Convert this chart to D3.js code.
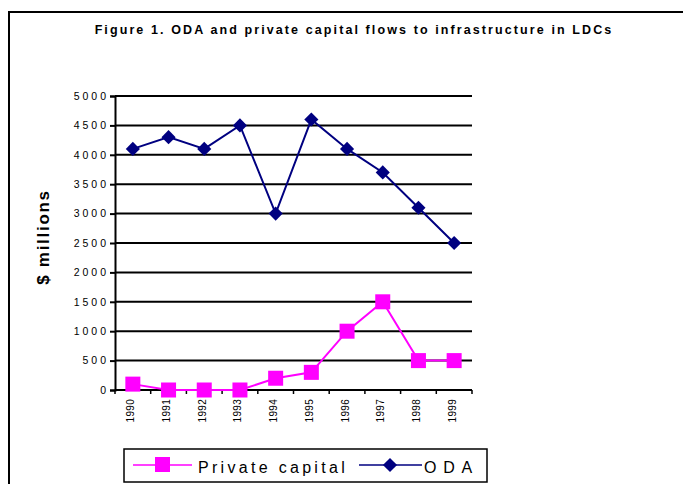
<!DOCTYPE html>
<html>
<head>
<meta charset="utf-8">
<script src="https://cdn.jsdelivr.net/npm/d3@7"></script>
<style>
  body { margin: 0; background: #fff; }
  svg { font-family: "Liberation Sans", Arial, sans-serif; }
</style>
</head>
<body>
<div id="chart"></div>
<script>
const years = ["1990", "1991", "1992", "1993", "1994", "1995", "1996", "1997", "1998", "1999"];
const oda = [4100, 4300, 4100, 4500, 3000, 4600, 4100, 3700, 3100, 2500];
const privateCapital = [100, 0, 0, 0, 200, 300, 1000, 1500, 500, 500];
const yTicks = [0, 500, 1000, 1500, 2000, 2500, 3000, 3500, 4000, 4500, 5000];

const width = 683, height = 484;
const svg = d3.select("#chart").append("svg")
    .attr("width", width)
    .attr("height", height);

// outer frame (runs off the right and bottom)
svg.append("path")
    .attr("d", "M9,490 L9,12 L690,12")
    .attr("fill", "none")
    .attr("stroke", "black")
    .attr("stroke-width", 2);

svg.append("text")
    .attr("x", 354)
    .attr("y", 34)
    .attr("text-anchor", "middle")
    .attr("font-size", 12.5)
    .attr("font-weight", "bold")
    .attr("letter-spacing", 2.1)
    .text("Figure 1. ODA and private capital flows to infrastructure in LDCs");

const plotLeft = 115, plotRight = 472, plotTop = 96, plotBottom = 390;

const x = d3.scaleBand().domain(years).range([plotLeft, plotRight]);
const y = d3.scaleLinear().domain([0, 5000]).range([plotBottom, plotTop]);

// gridlines
svg.append("g")
    .selectAll("line")
    .data(yTicks.filter(d => d > 0))
    .join("line")
    .attr("x1", plotLeft)
    .attr("x2", plotRight)
    .attr("y1", d => y(d))
    .attr("y2", d => y(d))
    .attr("stroke", "black")
    .attr("stroke-width", 2);

// y axis
const yAxis = svg.append("g")
    .attr("transform", `translate(${plotLeft},0)`)
    .call(d3.axisLeft(y).tickValues(yTicks).tickFormat(d3.format("d")).tickSize(5).tickPadding(1));
yAxis.select(".domain").attr("stroke-width", 2);
yAxis.selectAll(".tick line").attr("stroke-width", 2);
yAxis.selectAll("text")
    .attr("font-size", 10.5)
    .attr("letter-spacing", 3)
    .attr("font-family", "Liberation Sans, Arial, sans-serif")
    .attr("fill", "black");

// x axis: ticks between categories
const xAxis = svg.append("g")
    .attr("transform", `translate(0,${plotBottom})`);
xAxis.append("line")
    .attr("x1", plotLeft)
    .attr("x2", plotRight)
    .attr("stroke", "black")
    .attr("stroke-width", 2);
const bounds = years.map(d => x(d)).concat([plotRight]);
xAxis.selectAll(".xt")
    .data(bounds)
    .join("line")
    .attr("class", "xt")
    .attr("x1", d => d)
    .attr("x2", d => d)
    .attr("y1", 0)
    .attr("y2", 4)
    .attr("stroke", "black")
    .attr("stroke-width", 1.5);
xAxis.selectAll("text")
    .data(years)
    .join("text")
    .attr("transform", d => `translate(${x(d) + x.bandwidth() / 2 + 1.5},9) rotate(-90)`)
    .attr("text-anchor", "end")
    .attr("font-size", 10)
    .attr("letter-spacing", 0.3)
    .text(d => d);

// y label
svg.append("text")
    .attr("transform", `translate(49,237) rotate(-90)`)
    .attr("text-anchor", "middle")
    .attr("font-size", 17)
    .attr("font-weight", "bold")
    .attr("letter-spacing", 1.7)
    .text("$ millions");

const cx = d => x(d) + x.bandwidth() / 2;

const line = d3.line()
    .x((d, i) => cx(years[i]))
    .y(d => y(d));

// ODA
svg.append("path")
    .datum(oda)
    .attr("d", line)
    .attr("fill", "none")
    .attr("stroke", "#000080")
    .attr("stroke-width", 2);
const diamond = d3.symbol().type(d3.symbolSquare).size(100);
svg.append("g")
    .selectAll("path")
    .data(oda)
    .join("path")
    .attr("d", diamond)
    .attr("transform", (d, i) => `translate(${cx(years[i])},${y(d)}) rotate(45)`)
    .attr("fill", "#000080");

// private capital
svg.append("path")
    .datum(privateCapital)
    .attr("d", line)
    .attr("fill", "none")
    .attr("stroke", "#ff00ff")
    .attr("stroke-width", 2);
svg.append("g")
    .selectAll("rect")
    .data(privateCapital)
    .join("rect")
    .attr("x", (d, i) => cx(years[i]) - 7.5)
    .attr("y", d => y(d) - 7.5)
    .attr("width", 15)
    .attr("height", 15)
    .attr("fill", "#ff00ff");

// legend
const lg = svg.append("g");
lg.append("rect")
    .attr("x", 124)
    .attr("y", 449)
    .attr("width", 363)
    .attr("height", 33)
    .attr("fill", "white")
    .attr("stroke", "black")
    .attr("stroke-width", 1.5);
lg.append("line")
    .attr("x1", 133).attr("x2", 192)
    .attr("y1", 465).attr("y2", 465)
    .attr("stroke", "#ff00ff").attr("stroke-width", 1.5);
lg.append("rect")
    .attr("x", 155).attr("y", 457)
    .attr("width", 15).attr("height", 15)
    .attr("fill", "#ff00ff");
lg.append("text")
    .attr("x", 198).attr("y", 473)
    .attr("font-size", 16)
    .attr("letter-spacing", 3.3)
    .text("Private capital");
lg.append("line")
    .attr("x1", 359).attr("x2", 422)
    .attr("y1", 465).attr("y2", 465)
    .attr("stroke", "#000080").attr("stroke-width", 1.5);
lg.append("path")
    .attr("d", diamond)
    .attr("transform", "translate(390,465) rotate(45)")
    .attr("fill", "#000080");
lg.append("text")
    .attr("x", 424).attr("y", 473)
    .attr("font-size", 16)
    .attr("letter-spacing", 6.7)
    .text("ODA");
</script>
</body>
</html>
